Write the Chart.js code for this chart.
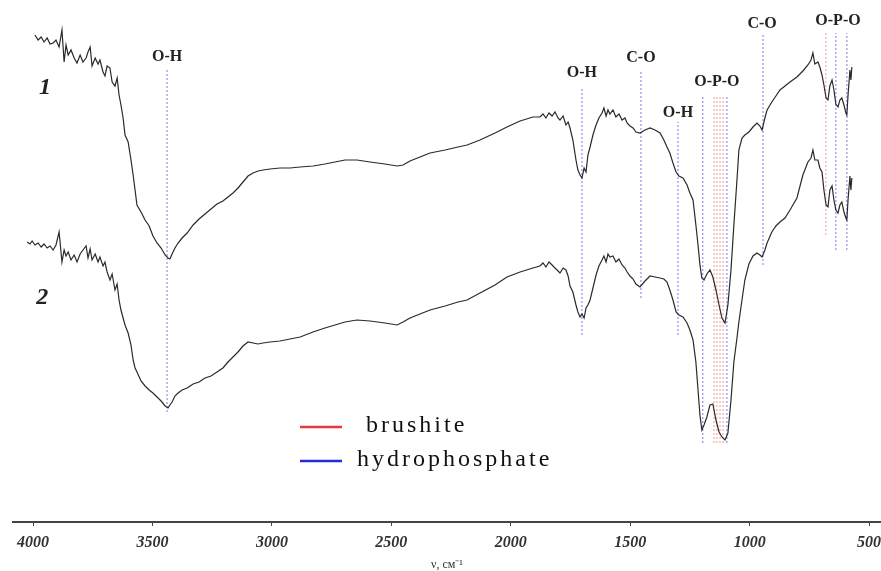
<!DOCTYPE html>
<html lang="ru">
<head>
  <meta charset="UTF-8" />
  <title>ИК-спектры</title>
  <script src="https://cdn.jsdelivr.net/npm/chart.js"></script>
  <style>
    html, body { margin: 0; padding: 0; background: #fff; }
    #wrap { width: 881px; height: 571px; position: relative; }
  </style>
</head>
<body>
  <div id="wrap"><canvas id="spectra"></canvas></div>

  <script>
    // wavenumber grid, cm-1 (shared by both spectra)
    const wavenumber = [
      4025, 4013, 4004, 3992, 3979, 3966, 3954, 3941, 3929, 3916,
      3904, 3891, 3879, 3870, 3862, 3853, 3841, 3828, 3816, 3803,
      3791, 3778, 3770, 3761, 3753, 3740, 3728, 3720, 3707, 3699,
      3690, 3678, 3669, 3657, 3648, 3640, 3632, 3623, 3615, 3602,
      3590, 3581, 3573, 3565, 3548, 3531, 3514, 3498, 3481, 3464,
      3447, 3435, 3427, 3418, 3406, 3393, 3376, 3355, 3330, 3305,
      3280, 3255, 3230, 3205, 3184, 3163, 3142, 3121, 3100, 3079,
      3058, 3037, 3008, 2966, 2924, 2882, 2828, 2778, 2736, 2694,
      2644, 2589, 2527, 2476, 2451, 2422, 2380, 2338, 2275, 2221,
      2183, 2129, 2066, 2016, 1961, 1907, 1878, 1865, 1853, 1840,
      1827, 1815, 1802, 1794, 1781, 1769, 1760, 1752, 1740, 1727,
      1719, 1710, 1702, 1693, 1685, 1677, 1668, 1656, 1643, 1631,
      1618, 1610, 1601, 1593, 1585, 1572, 1560, 1547, 1534, 1522,
      1513, 1501, 1488, 1476, 1459, 1438, 1417, 1396, 1375, 1359,
      1346, 1334, 1321, 1308, 1296, 1279, 1262, 1250, 1237, 1225,
      1216, 1208, 1200, 1191, 1179, 1166, 1154, 1141, 1128, 1116,
      1103, 1091, 1078, 1066, 1053, 1045, 1032, 1020, 1003, 986,
      969, 957, 948, 936, 927, 907, 890, 873, 852, 831,
      802, 777, 756, 743, 735, 727, 714, 706, 697, 689,
      680, 672, 664, 655, 647, 639, 630, 622, 614, 605,
      597, 593, 588, 580, 576, 572
    ];

    // spectrum 1 (upper curve), arbitrary transmittance units
    const spectrum1 = [
      null, null, null, 487, 482, 485, 480, 484, 478, 479,
      482, 475, 492, 460, 477, 467, 472, 464, 459, 467,
      460, 464, 470, 475, 456, 464, 458, 462, 450, 446,
      456, 454, 440, 436, 444, 427, 417, 404, 387, 380,
      362, 347, 332, 317, 310, 302, 296, 286, 279, 274,
      267, 264, 263, 268, 274, 279, 284, 289, 297, 303,
      308, 313, 318, 321, 325, 329, 334, 340, 346, 349,
      351, 352, 353, 354, 354, 355, 356, 358, 360, 362,
      362, 360, 358, 356, 357, 361, 365, 369, 372, 375,
      377, 382, 389, 395, 401, 405, 405, 408, 404, 409,
      406, 410, 404, 402, 406, 397, 400, 394, 382, 362,
      352, 347, 344, 354, 350, 367, 375, 387, 397, 404,
      409, 414, 406, 412, 408, 412, 405, 408, 402, 404,
      399, 396, 394, 390, 389, 392, 394, 392, 389, 382,
      375, 369, 359, 350, 346, 344, 337, 329, 322, 297,
      277, 257, 244, 242, 248, 252, 245, 232, 217, 204,
      199, 217, 252, 297, 342, 372, 384, 387, 390, 395,
      399, 396, 392, 404, 412, 420, 426, 432, 436, 440,
      445, 451, 457, 462, 469, 458, 460, 455, 447, 437,
      424, 422, 436, 442, 432, 418, 415, 422, 424, 417,
      409, 407, 427, 452, 442, 455
    ];

    // spectrum 2 (lower curve)
    const spectrum2 = [
      280, 278, 281, 277, 279, 275, 278, 274, 276, 272,
      277, 290, 260, 272, 266, 270, 262, 267, 260, 268,
      272, 276, 264, 273, 262, 268, 260, 265, 256, 260,
      250, 242, 248, 232, 238, 222, 212, 204, 197, 189,
      177, 162, 154, 150, 141, 136, 132, 129, 125, 121,
      116, 114, 117, 120, 126, 129, 132, 134, 138, 140,
      144, 146, 150, 154, 160, 165, 170, 176, 180, 179,
      178, 179, 180, 181, 183, 185, 190, 194, 197, 200,
      202, 201, 199, 197, 200, 204, 208, 212, 216, 220,
      222, 229, 237, 245, 250, 254, 256, 259, 255, 260,
      257, 254, 251, 249, 254, 252, 246, 236, 230, 217,
      210, 205, 208, 204, 214, 217, 222, 234, 247, 256,
      262, 266, 260, 268, 265, 266, 260, 263, 257, 254,
      250, 246, 243, 238, 235, 241, 246, 245, 244, 243,
      240, 232, 222, 210, 207, 205, 199, 192, 182, 160,
      132, 107, 92, 97, 105, 117, 118, 102, 90, 85,
      82, 89, 122, 160, 184, 200, 222, 242, 258, 266,
      269, 267, 265, 272, 279, 290, 296, 300, 304, 312,
      324, 347, 360, 364, 372, 362, 362, 354, 350, 332,
      317, 315, 332, 336, 322, 312, 309, 317, 320, 310,
      304, 302, 322, 346, 332, 344
    ];

    const xTicks = [4000, 3500, 3000, 2500, 2000, 1500, 1000, 500];

    // band markers: wavenumber, lower and upper end of the dotted line
    const blueBands = [3439, 1702, 1455, 1300, 1196, 1095, 944, 639, 593];
    const blueTop = [452, 434, 450, 400, 425, 425, 487, 489, 489];
    const blueBottom = [110, 187, 224, 187, 79, 79, 257, 272, 272];
    const redBands = [1149, 1137, 1124, 1111, 681];
    const redTop = [425, 425, 425, 425, 489];
    const redBottom = [79, 79, 79, 79, 287];

    // group labels above the markers
    const bandLabels = ['O-H', 'O-H', 'C-O', 'O-H', 'O-P-O', 'C-O', 'O-P-O'];
    const labelWn = [3439, 1702, 1455, 1300, 1137, 948, 630];
    const labelLevel = [465, 449, 464, 409, 440, 498, 501];

    const curveNames = ['1', '2'];
    const curveNameWn = [3950, 3962];
    const curveNameLevel = [434, 224];

    const legendNames = [' brushite', 'hydrophosphate'];
    const legendColors = ['#e8393b', '#2b2bd6'];

    const toPoints = ys => wavenumber.map((w, i) => ({ x: w, y: ys[i] }));

    const markers = [];
    blueBands.forEach((w, i) => markers.push({
      data: [{ x: w, y: blueBottom[i] }, { x: w, y: blueTop[i] }],
      borderColor: '#7a7aee'
    }));
    redBands.forEach((w, i) => markers.push({
      data: [{ x: w, y: redBottom[i] }, { x: w, y: redTop[i] }],
      borderColor: '#f29a9a'
    }));

    // texts placed through the scales
    const labelsPlugin = {
      id: 'bandText',
      afterDatasetsDraw(chart) {
        const { ctx, scales: { x, y } } = chart;
        ctx.save();
        ctx.fillStyle = '#222';
        ctx.textAlign = 'center';
        ctx.textBaseline = 'middle';
        ctx.font = 'bold 16px "Liberation Serif"';
        bandLabels.forEach((t, i) => {
          ctx.fillText(t, x.getPixelForValue(labelWn[i]), y.getPixelForValue(labelLevel[i]));
        });
        ctx.font = 'italic bold 24px "Liberation Serif"';
        curveNames.forEach((t, i) => {
          ctx.fillText(t, x.getPixelForValue(curveNameWn[i]), y.getPixelForValue(curveNameLevel[i]));
        });
        ctx.restore();
      }
    };

    const legendPlugin = {
      id: 'sampleLegend',
      afterDraw(chart) {
        const ctx = chart.ctx;
        ctx.save();
        ctx.font = '24px "Liberation Serif"';
        ctx.letterSpacing = '3px';
        ctx.textBaseline = 'middle';
        ctx.fillStyle = '#111';
        legendNames.forEach((t, i) => {
          const yy = 427 + i * 34;
          ctx.strokeStyle = legendColors[i];
          ctx.lineWidth = 2.5;
          ctx.beginPath();
          ctx.moveTo(300, yy);
          ctx.lineTo(342, yy);
          ctx.stroke();
          ctx.fillText(t, 357, yy - 1);
        });
        ctx.restore();
      }
    };

    new Chart(document.getElementById('spectra'), {
      type: 'line',
      data: {
        datasets: [
          { label: '1', data: toPoints(spectrum1), borderColor: '#2a2a2a', borderWidth: 1.2, order: 0 },
          { label: '2', data: toPoints(spectrum2), borderColor: '#2a2a2a', borderWidth: 1.2, order: 0 },
          ...markers.map(m => ({ ...m, borderWidth: 1, borderDash: [2, 2], order: 1 }))
        ]
      },
      options: {
        responsive: true,
        maintainAspectRatio: false,
        animation: false,
        parsing: false,
        elements: { point: { radius: 0 }, line: { tension: 0 } },
        layout: { padding: { left: 13, right: 0, top: 0, bottom: 0 } },
        scales: {
          x: {
            type: 'linear',
            reverse: true,
            min: 450,
            max: 4084,
            afterBuildTicks: scale => { scale.ticks = xTicks.map(v => ({ value: v })); },
            afterFit: scale => {
              // keep the plot running to the right edge, axis band 49px tall
              scale.paddingLeft = 0;
              scale.paddingRight = 0;
              scale.height = 49;
            },
            ticks: {
              callback: v => String(v),
              maxRotation: 0,
              autoSkip: false,
              padding: 7,
              color: '#333',
              font: { family: '"Liberation Serif"', size: 16, style: 'italic', weight: 'bold' }
            },
            grid: { drawOnChartArea: false, drawTicks: true, tickLength: 4, color: '#444' },
            border: { display: true, color: '#444', width: 2 },
            title: {
              display: true,
              text: 'ν, см⁻¹',
              color: '#333',
              padding: { top: 0, bottom: 0 },
              font: { family: '"Liberation Serif"', size: 12, lineHeight: 1 }
            }
          },
          y: { display: false, min: 0, max: 522 }
        },
        plugins: { legend: { display: false }, tooltip: { enabled: false } }
      },
      plugins: [labelsPlugin, legendPlugin]
    });
  </script>
</body>
</html>
